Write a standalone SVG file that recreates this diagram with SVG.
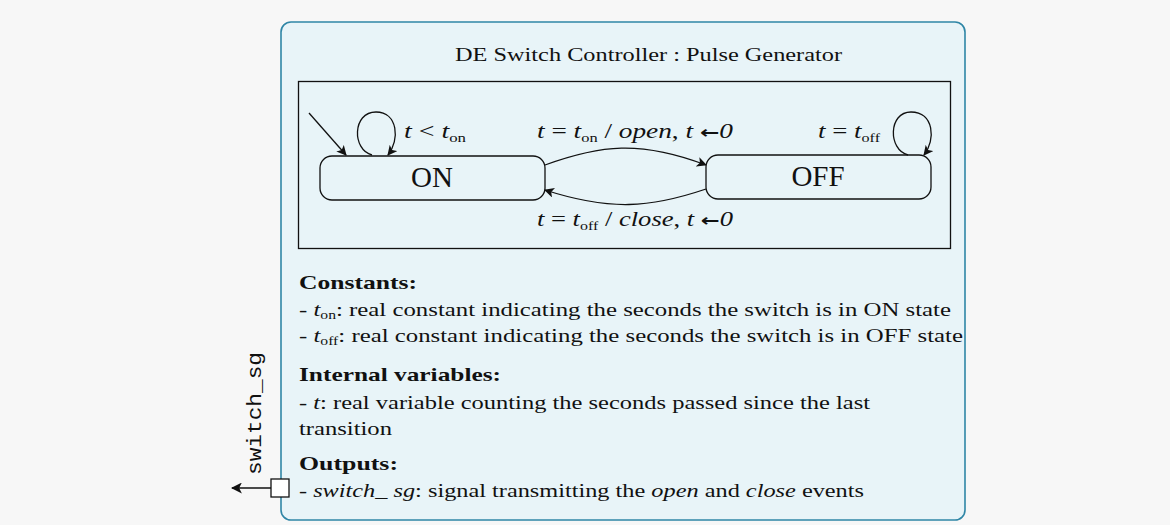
<svg xmlns="http://www.w3.org/2000/svg" width="1170" height="525" viewBox="0 0 1170 525">
<style>
.serif{font-family:"Liberation Serif","DejaVu Serif",serif;fill:#111}
.it{font-style:italic}
.b{font-weight:bold}
.state{fill:none;stroke:#111;stroke-width:1.3}
.edge{fill:none;stroke:#111;stroke-width:1.3}
.sub{font-size:12px}
.arr{font-family:"DejaVu Sans",sans-serif;font-weight:bold;font-size:17px}
</style>
<defs>
<marker id="ah" viewBox="0 0 10 10" refX="9" refY="5" markerWidth="10" markerHeight="10" markerUnits="userSpaceOnUse" orient="auto">
<path d="M0,0 L10,5 L0,10 L2.5,5 Z" fill="#111"/>
</marker>
<marker id="ah2" viewBox="0 0 10 10" refX="9" refY="5" markerWidth="11" markerHeight="11" markerUnits="userSpaceOnUse" orient="auto">
<path d="M0,0 L10,5 L0,10 L2.5,5 Z" fill="#111"/>
</marker>
</defs>
<rect x="0" y="0" width="1170" height="525" fill="#f7f7f7"/>
<g id="controller">
<rect x="281" y="22" width="684" height="498" rx="10" fill="#e8f4f8" stroke="#2f86a6" stroke-width="1.6"/>
<text class="serif" x="455" y="61" font-size="19" textLength="387" lengthAdjust="spacingAndGlyphs">DE Switch Controller : Pulse Generator</text>
<rect x="298.5" y="81.5" width="652" height="167" fill="none" stroke="#111" stroke-width="1.3"/>
</g>
<g id="state-on">
<rect class="state" x="320" y="156" width="225" height="44" rx="12"/>
<text class="serif" x="432" y="187" font-size="29" text-anchor="middle">ON</text>
</g>
<g id="state-off">
<rect class="state" x="706" y="155" width="225" height="44" rx="12"/>
<text class="serif" x="818" y="186" font-size="29" text-anchor="middle">OFF</text>
</g>
<g id="connectors">
<line class="edge" x1="309" y1="113" x2="346" y2="155" marker-end="url(#ah)"/>
<path class="edge" d="M372,155 C352,150 352,112 376,112 C398,112 400,140 388,155" marker-end="url(#ah)"/>
<path class="edge" d="M908,155 C888,150 888,112 911,112 C934,112 936,140 924,155" marker-end="url(#ah)"/>
<path class="edge" d="M545,165 C600,145 640,140 706,165" marker-end="url(#ah)"/>
<path class="edge" d="M706,189 C650,208 610,211 545,190" marker-end="url(#ah)"/>
</g>
<g id="labels">
<text class="serif" x="404" y="138" font-size="20" textLength="62" lengthAdjust="spacingAndGlyphs"><tspan class="it">t</tspan> &lt; <tspan class="it">t</tspan><tspan class="sub" dy="4">on</tspan></text>
<text class="serif" x="537" y="138" font-size="20" textLength="196" lengthAdjust="spacingAndGlyphs"><tspan class="it">t</tspan> = <tspan class="it">t</tspan><tspan class="sub" dy="4">on</tspan><tspan dy="-4"> / </tspan><tspan class="it">open</tspan>, <tspan class="it">t</tspan> <tspan class="arr">←</tspan><tspan class="it">0</tspan></text>
<text class="serif" x="818" y="138" font-size="20" textLength="62" lengthAdjust="spacingAndGlyphs"><tspan class="it">t</tspan> = <tspan class="it">t</tspan><tspan class="sub" dy="4">off</tspan></text>
<text class="serif" x="537" y="226" font-size="20" textLength="196" lengthAdjust="spacingAndGlyphs"><tspan class="it">t</tspan> = <tspan class="it">t</tspan><tspan class="sub" dy="4">off</tspan><tspan dy="-4"> / </tspan><tspan class="it">close</tspan>, <tspan class="it">t</tspan> <tspan class="arr">←</tspan><tspan class="it">0</tspan></text>
</g>
<g id="description" class="serif" font-size="19">
<text class="b" x="299" y="289" textLength="118" lengthAdjust="spacingAndGlyphs">Constants:</text>
<text x="299" y="316" textLength="652" lengthAdjust="spacingAndGlyphs">- <tspan class="it">t</tspan><tspan class="sub" dy="3">on</tspan><tspan dy="-3">: real constant indicating the seconds the switch is in ON state</tspan></text>
<text x="299" y="342" textLength="664" lengthAdjust="spacingAndGlyphs">- <tspan class="it">t</tspan><tspan class="sub" dy="3">off</tspan><tspan dy="-3">: real constant indicating the seconds the switch is in OFF state</tspan></text>
<text class="b" x="299" y="381" textLength="202" lengthAdjust="spacingAndGlyphs">Internal variables:</text>
<text x="299" y="409" textLength="571" lengthAdjust="spacingAndGlyphs">- <tspan class="it">t</tspan>: real variable counting the seconds passed since the last</text>
<text x="299" y="435" textLength="93" lengthAdjust="spacingAndGlyphs">transition</text>
<text class="b" x="299" y="470" textLength="99" lengthAdjust="spacingAndGlyphs">Outputs:</text>
<text x="299" y="497" textLength="565" lengthAdjust="spacingAndGlyphs">- <tspan class="it">switch_ sg</tspan>: signal transmitting the <tspan class="it">open</tspan> and <tspan class="it">close</tspan> events</text>
</g>
<g id="port">
<rect x="271" y="479" width="18" height="18" fill="#fff" stroke="#111" stroke-width="1.3"/>
<line class="edge" x1="271" y1="488" x2="232" y2="488" marker-end="url(#ah2)"/>
<text x="261" y="475" transform="rotate(-90 261 475)" font-family="Liberation Mono,DejaVu Sans Mono,monospace" font-size="20" fill="#111" textLength="123" lengthAdjust="spacingAndGlyphs">switch_sg</text>
</g>
</svg>
